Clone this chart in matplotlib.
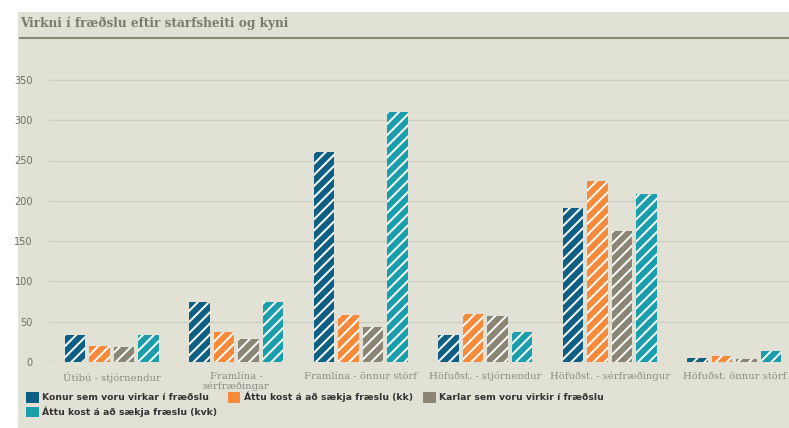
import matplotlib
matplotlib.use("Agg")
import matplotlib.pyplot as plt
import numpy as np
from matplotlib.patches import Patch, Rectangle
from matplotlib.lines import Line2D

categories = ["Útibú - stjórnendur", "Framlína -\nsérfræðingar", "Framlína - önnur störf",
              "Höfuðst. - stjórnendur", "Höfuðst. - sérfræðingur", "Höfuðst. önnur störf"]
series_names = ["Konur sem voru virkar í fræðslu", "Áttu kost á að sækja fræslu (kk)",
                "Karlar sem voru virkir í fræðslu", "Áttu kost á að sækja fræslu (kvk)"]
konur = [33, 75, 261, 33, 191, 5.5]
kk = [19.5, 37.5, 58, 60, 225, 7]
karlar = [18, 29, 44, 57, 163, 3.5]
kvk = [33, 75, 310, 37.5, 209, 14]
yticks = [0, 50, 100, 150, 200, 250, 300, 350]
title = "Virkni í fræðslu eftir starfsheiti og kyni"

colors = ["#0f5f83", "#f78a3a", "#8a8575", "#1a9eab"]
bg = "#e2e1d6"

plt.rcParams['hatch.linewidth'] = 1.4
plt.rcParams['hatch.color'] = 'white'

W, H = 789, 428
fig = plt.figure(figsize=(W/100, H/100), dpi=100)
fig.patch.set_facecolor("white")
fig.patches.append(Rectangle((18/W, 0), 1 - 18/W, 1 - 12/H, transform=fig.transFigure,
                             facecolor=bg, edgecolor="none", zorder=-10))

ax = fig.add_axes([49.5/W, (H-362)/H, (789-49.5)/W, (362-60)/H])
ax.set_facecolor("none")
for s in ax.spines.values():
    s.set_visible(False)

x = np.arange(len(categories))
step = 0.198
width = 0.165
data = [konur, kk, karlar, kvk]
for i, (vals, c) in enumerate(zip(data, colors)):
    ax.bar(x + (i - 1.5) * step, vals, width, color=c, edgecolor="white",
           linewidth=0, hatch="///", zorder=3)

ax.set_xlim(-0.5, -0.5 + (789 - 49.5) / 124.5)
ax.set_ylim(0, (362 - 60) / 0.806)
ax.set_yticks(yticks)
ax.set_yticklabels([str(v) for v in yticks], fontsize=7, color="#6f6f66")
ax.yaxis.grid(True, color="#cfcec2", linewidth=1, zorder=0)
ax.tick_params(axis="y", length=0, pad=12)
ax.tick_params(axis="x", length=0, pad=7)
ax.set_xticks(x)
ax.set_xticklabels(categories, fontsize=7.2, color="#8a8a80", family="DejaVu Serif",
                   linespacing=1.05)

fig.text(20/W, 1 - 23/H, title, fontsize=8.7, fontweight="bold", color="#7b7b6b",
         family="DejaVu Serif", va="center", ha="left")
fig.add_artist(Line2D([20/W, 1], [1 - 38/H, 1 - 38/H], transform=fig.transFigure,
                      color="#8a8a76", linewidth=1.5))

handles = [Patch(facecolor=c, edgecolor="none") for c in colors]
order = [0, 3, 1, 2]
leg = fig.legend([handles[i] for i in order], [series_names[i] for i in order],
                 loc="upper left", bbox_to_anchor=(26/W, 1 - 392/H), ncol=3,
                 frameon=False, fontsize=6.7, handlelength=1.35, handleheight=1.35,
                 handletextpad=0.4, columnspacing=1.1, labelspacing=0.45,
                 borderpad=0, borderaxespad=0)
for t in leg.get_texts():
    t.set_fontweight("bold")
    t.set_color("#333333")

fig.savefig("out.png", dpi=100, facecolor=fig.get_facecolor())
